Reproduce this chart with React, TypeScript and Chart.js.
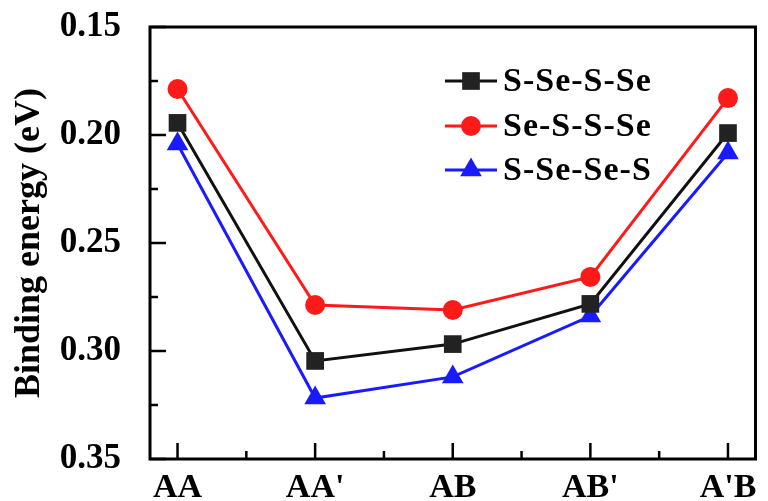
import React, { useEffect, useRef } from "react";
import { Chart, registerables } from "chart.js";

Chart.register(...registerables);

const categories = ["AA", "AA'", "AB", "AB'", "A'B"];
const seriesNames = ["S-Se-S-Se", "Se-S-S-Se", "S-Se-Se-S"];
const sSeSSe = [0.1944, 0.3046, 0.2968, 0.2782, 0.1991];
const seSSSe = [0.1787, 0.2787, 0.281, 0.2657, 0.1829];
const sSeSeS = [0.2042, 0.3218, 0.312, 0.2838, 0.2083];
const yTicks = [0.15, 0.2, 0.25, 0.3, 0.35];

const FONT = "'Liberation Serif', 'Times New Roman', serif";

function drawMarker(ctx: CanvasRenderingContext2D, style: string, x: number, y: number, r: number, color: string) {
  ctx.save();
  ctx.fillStyle = color;
  ctx.beginPath();
  if (style === "rect") {
    const s = Math.SQRT1_2 * r;
    ctx.rect(x - s, y - s, 2 * s, 2 * s);
  } else if (style === "circle") {
    ctx.arc(x, y, r, 0, Math.PI * 2);
  } else {
    const h = r * 1.5;
    const w = r * Math.sqrt(3);
    ctx.moveTo(x, y - r);
    ctx.lineTo(x - w / 2, y - r + h);
    ctx.lineTo(x + w / 2, y - r + h);
    ctx.closePath();
  }
  ctx.fill();
  ctx.restore();
}

const framePlugin = {
  id: "frameTicks",
  afterDatasetsDraw(chart: any) {
    const { ctx, chartArea } = chart;
    const xs = chart.scales.x;
    const ys = chart.scales.y;
    ctx.save();
    ctx.strokeStyle = "#000";
    ctx.lineWidth = 3;
    ctx.strokeRect(chartArea.left, chartArea.top, chartArea.right - chartArea.left, chartArea.bottom - chartArea.top);
    ctx.lineWidth = 2.5;
    ctx.beginPath();
    for (let i = 0; i < yTicks.length; i++) {
      const py = ys.getPixelForValue(yTicks[i]);
      ctx.moveTo(chartArea.left, py);
      ctx.lineTo(chartArea.left + 16, py);
      if (i < yTicks.length - 1) {
        const pm = ys.getPixelForValue((yTicks[i] + yTicks[i + 1]) / 2);
        ctx.moveTo(chartArea.left, pm);
        ctx.lineTo(chartArea.left + 8, pm);
      }
    }
    for (let i = 0; i < categories.length; i++) {
      const px = xs.getPixelForValue(i);
      ctx.moveTo(px, chartArea.bottom);
      ctx.lineTo(px, chartArea.bottom - 16);
      if (i < categories.length - 1) {
        const pm = xs.getPixelForValue(i + 0.5);
        ctx.moveTo(pm, chartArea.bottom);
        ctx.lineTo(pm, chartArea.bottom - 8);
      }
    }
    ctx.stroke();
    ctx.restore();
  },
  afterDraw(chart: any) {
    const { ctx } = chart;
    const rows = [81, 126, 170];
    ctx.save();
    chart.data.datasets.forEach((ds: any, i: number) => {
      const y = rows[i];
      ctx.strokeStyle = ds.borderColor;
      ctx.lineWidth = 3;
      ctx.beginPath();
      ctx.moveTo(445, y);
      ctx.lineTo(497, y);
      ctx.stroke();
      drawMarker(ctx, ds.pointStyle, 471, y, ds.pointRadius, ds.pointBackgroundColor);
      ctx.fillStyle = "#000";
      ctx.font = `bold 34px ${FONT}`;
      ctx.textBaseline = "middle";
      ctx.textAlign = "left";
      (ctx as any).letterSpacing = "1px";
      ctx.fillText(ds.label, 503, y + 1);
    });
    ctx.restore();
  },
};

export default function App() {
  const ref = useRef<HTMLCanvasElement | null>(null);
  useEffect(() => {
    if (!ref.current) return;
    const mk = (vals: number[]) => vals.map((v, i) => ({ x: i, y: v }));
    const chart = new Chart(ref.current, {
      type: "line",
      data: {
        datasets: [
          {
            label: seriesNames[0],
            data: mk(sSeSSe),
            borderColor: "#111111",
            backgroundColor: "#222222",
            pointBackgroundColor: "#222222",
            pointBorderWidth: 0,
            pointStyle: "rect",
            pointRadius: 12.5,
            borderWidth: 3,
            clip: false,
          },
          {
            label: seriesNames[1],
            data: mk(seSSSe),
            borderColor: "#ff1a1a",
            backgroundColor: "#ff1a1a",
            pointBackgroundColor: "#ff1a1a",
            pointBorderWidth: 0,
            pointStyle: "circle",
            pointRadius: 10,
            borderWidth: 3,
            clip: false,
          },
          {
            label: seriesNames[2],
            data: mk(sSeSeS),
            borderColor: "#1a1aff",
            backgroundColor: "#1a1aff",
            pointBackgroundColor: "#1a1aff",
            pointBorderWidth: 0,
            pointStyle: "triangle",
            pointRadius: 12.5,
            borderWidth: 3,
            clip: false,
          },
        ],
      },
      options: {
        animation: false,
        responsive: false,
        maintainAspectRatio: false,
        layout: { padding: { top: 27, right: 3, left: 0, bottom: 0 } },
        plugins: { legend: { display: false }, tooltip: { enabled: false } },
        scales: {
          x: {
            type: "linear",
            min: -0.2,
            max: 4.2,
            grid: { display: false },
            border: { display: false },
            afterBuildTicks: (s: any) => {
              s.ticks = categories.map((_, i) => ({ value: i }));
            },
            afterFit: (s: any) => {
              s.height = 42;
              s.paddingLeft = 0;
              s.paddingRight = 0;
            },
            ticks: {
              autoSkip: false,
              maxRotation: 0,
              padding: 1,
              color: "#000",
              font: { family: FONT, size: 34, weight: "bold" },
              callback: (v: any) => categories[Math.round(Number(v))] ?? "",
            },
          },
          y: {
            type: "linear",
            reverse: true,
            min: 0.15,
            max: 0.35,
            grid: { display: false },
            border: { display: false },
            afterBuildTicks: (s: any) => {
              s.ticks = yTicks.map((v) => ({ value: v }));
            },
            afterFit: (s: any) => {
              s.width = 150;
              s.paddingTop = 0;
              s.paddingBottom = 0;
            },
            title: {
              display: true,
              text: "Binding energy (eV)",
              color: "#000",
              font: { family: FONT, size: 36, weight: "bold" },
              padding: { top: 8, bottom: 0 },
            },
            ticks: {
              padding: 21,
              color: "#000",
              font: { family: FONT, size: 35, weight: "bold" },
              callback: (v: any) => Number(v).toFixed(2),
            },
          },
        },
      },
      plugins: [framePlugin],
    });
    return () => chart.destroy();
  }, []);
  return (
    <div style={{ position: "fixed", left: 0, top: 0, width: 768, height: 501, background: "#fff" }}>
      <canvas ref={ref} width={768} height={501} style={{ width: 768, height: 501, display: "block" }} />
    </div>
  );
}
